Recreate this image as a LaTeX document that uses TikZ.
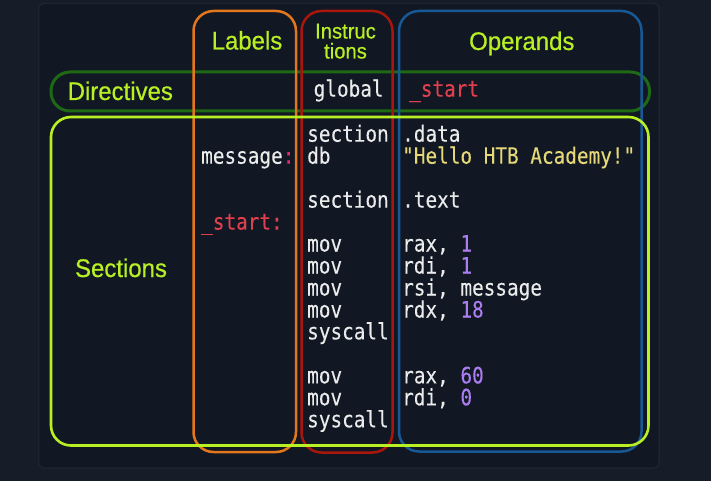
\documentclass[tikz,border=0pt]{standalone}
\usepackage{fontspec}
\setmainfont{Liberation Sans}
\newfontfamily\labfont[FakeStretch=0.94,FakeBold=0.5]{Liberation Sans}
\newfontfamily\codefont[FakeStretch=0.86,FakeBold=0.15]{DejaVu Sans Mono}
\definecolor{bgc}{RGB}{22,29,41}
\definecolor{panelc}{RGB}{17,24,35}
\definecolor{panelb}{RGB}{28,36,50}
\definecolor{limec}{RGB}{184,240,36}
\definecolor{dgreen}{RGB}{30,105,20}
\definecolor{orangec}{RGB}{228,118,28}
\definecolor{redbox}{RGB}{168,22,12}
\definecolor{bluec}{RGB}{24,88,148}
\definecolor{codew}{RGB}{235,235,235}
\definecolor{redt}{RGB}{224,64,78}
\definecolor{pinkc}{RGB}{232,40,110}
\definecolor{yellowc}{RGB}{230,216,120}
\definecolor{numc}{RGB}{170,125,240}
\tikzset{
  colbox/.style={line width=2.5pt, rounded corners=20pt},
  rowbox/.style={line width=2.6pt, rounded corners=19pt},
  head/.style={anchor=base, inner sep=0pt, text=limec, font=\labfont\fontsize{25.5}{27}\selectfont},
  smallhead/.style={anchor=north, inner sep=0pt, align=center, text=limec, font=\labfont\fontsize{21.5}{20}\selectfont},
  code/.style={anchor=base west, inner sep=0pt, text=codew, font=\codefont\fontsize{22.5}{24}\selectfont},
}
\begin{document}
\begin{tikzpicture}[x=1pt,y=-1pt]
\useasboundingbox (0,0) rectangle (711,481);
\fill[bgc] (0,0) rectangle (711,481);
\draw[panelb, fill=panelc, line width=1.5pt, rounded corners=5pt] (38.5,3.5) rectangle (659,468);
% rows and columns
\draw[rowbox, dgreen, line width=3pt] (51,72) rectangle (649.5,111);
\draw[colbox, orangec] (193.5,11) rectangle (296,452);
\draw[colbox, redbox] (301.5,11) rectangle (392.5,452.5);
\draw[colbox, bluec] (399,11) rectangle (641.5,451.5);
\draw[rowbox, limec, rounded corners=20pt] (51,117) rectangle (648.5,445.5);
% headings
\node[smallhead] (hins) at (345.5,23.5) {Instruc\\tions};
\node[head] (hlab) at (247,49.5) {Labels};
\node[head] (hops) at (521.8,50) {Operands};
\node[head] (hdir) at (120.3,100) {Directives};
\node[head] (hsec) at (121,277) {Sections};
% directive line
\node[code] (glob) at (313.5,96.7) {global};
\node[code, text=redt] (gstart) at (409,96.7) {\_start};
% code lines
\node[code] (i0) at (307,141.7) {section};
\node[code] (o0) at (402,141.7) {.data};
\node[code] (l1) at (201,163.7) {message\textcolor{pinkc}{:}};
\node[code] (i1) at (307,163.7) {db};
\node[code, text=yellowc] (o1) at (402,163.7) {"Hello HTB Academy!"};
\node[code] (i3) at (307,207.6) {section};
\node[code] (o3) at (402,207.6) {.text};
\node[code, text=redt] (l4) at (201,229.6) {\_start:};
\node[code] (i5) at (307,251.5) {mov};
\node[code] (o5) at (402,251.5) {rax, \textcolor{numc}{1}};
\node[code] (i6) at (307,273.5) {mov};
\node[code] (o6) at (402,273.5) {rdi, \textcolor{numc}{1}};
\node[code] (i7) at (307,295.5) {mov};
\node[code] (o7) at (402,295.5) {rsi, message};
\node[code] (i8) at (307,317.5) {mov};
\node[code] (o8) at (402,317.5) {rdx, \textcolor{numc}{18}};
\node[code] (i9) at (307,339.4) {syscall};
\node[code] (i11) at (307,383.4) {mov};
\node[code] (o11) at (402,383.4) {rax, \textcolor{numc}{60}};
\node[code] (i12) at (307,405.3) {mov};
\node[code] (o12) at (402,405.3) {rdi, \textcolor{numc}{0}};
\node[code] (i13) at (307,427.3) {syscall};
\end{tikzpicture}
\end{document}
